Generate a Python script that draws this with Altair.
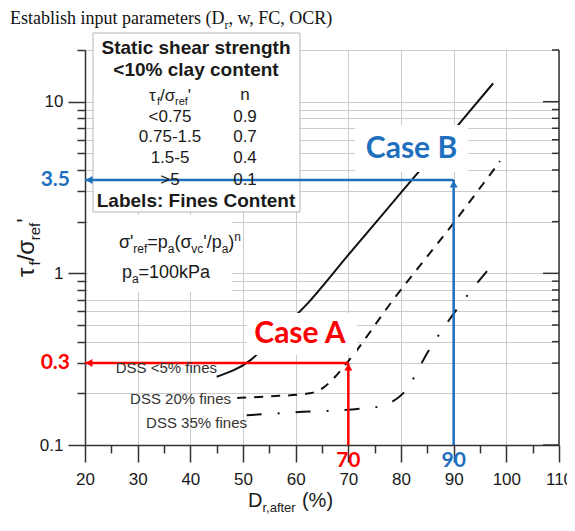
import math
import altair as alt
import pandas as pd

# ---------------- data ----------------
X_TICKS = [20, 25, 30, 35, 40, 45, 50, 55, 60, 65, 70, 75, 80, 85, 90, 95, 100, 105, 110]
Y_TICKS = [0.1, 0.2, 0.3, 0.4, 0.5, 0.6, 0.7, 0.8, 0.9, 1, 2, 3, 4, 5, 6, 7, 8, 9, 10, 20]
Y_MAJOR = [0.1, 1, 10]
Y_MINOR = [v for v in Y_TICKS if v not in Y_MAJOR]

SOLID_X = [45, 51.3, 56, 62.5, 70, 80, 90, 97.5]
SOLID_Y = [0.25, 0.31, 0.43, 0.68, 1.28, 2.95, 6.8, 12.8]
DASH_X = [48.9, 55, 62.7, 65.2, 67.5, 69.7, 78.5, 89.9, 98.8]
DASH_Y = [0.188, 0.192, 0.20, 0.215, 0.25, 0.30, 0.70, 1.95, 4.5]
DOT_X = [50.7, 60, 72.5, 76, 78.5, 80.4, 85.5, 90.8, 96.9]
DOT_Y = [0.149, 0.155, 0.163, 0.168, 0.18, 0.20, 0.365, 0.63, 1.08]

CASE_A = (70, 0.3)
CASE_B = (90, 3.5)

# ---------------- layout ----------------
W, H = 474, 395
OX, OY = 85, 50
XMIN, XMAX = 20, 110
YMIN, YMAX = 0.1, 20

SANS = "Liberation Sans, Arial, sans-serif"
SERIF = "Liberation Serif, Times New Roman, serif"
CAL = "Lato, Carlito, sans-serif"
RED = "#ff0000"
BLUE = "#1f6fbf"
INK = "#1a1a1a"


def sx(v):
    return (v - XMIN) / (XMAX - XMIN) * W + OX


def sy(v):
    return H * (math.log10(YMAX) - math.log10(v)) / (math.log10(YMAX) - math.log10(YMIN)) + OY


ARIAL = {' ': 278, '!': 278, "'": 191, '(': 333, ')': 333, '%': 889, ',': 278, '-': 333,
         '.': 278, '/': 278, ':': 278, '<': 584, '=': 584, '>': 584,
         'A': 667, 'B': 667, 'C': 722, 'D': 722, 'E': 667, 'F': 611, 'L': 556, 'P': 667, 'S': 667,
         'a': 556, 'b': 556, 'c': 500, 'd': 556, 'e': 556, 'f': 278, 'g': 556, 'h': 556, 'i': 222,
         'k': 500, 'l': 222, 'm': 833, 'n': 556, 'o': 556, 'p': 556, 'r': 333, 's': 500, 't': 278,
         'u': 556, 'v': 500, 'w': 722, 'y': 500, 'σ': 600, 'τ': 480}
TIMES = {' ': 250, ',': 250, '(': 333, ')': 333, 'C': 667, 'D': 722, 'E': 611, 'F': 556, 'O': 722,
         'R': 667, 'a': 444, 'b': 500, 'e': 444, 'h': 500, 'i': 278, 'l': 278, 'm': 778, 'n': 500,
         'p': 500, 'r': 333, 's': 389, 't': 278, 'u': 500, 'w': 722}

one = alt.Data(values=[{"k": 0}])


def text(s, x, y, size, color=INK, weight="normal", font=SANS, align="left",
         baseline="alphabetic", angle=0):
    mk = dict(text=s, fontSize=size, color=color, fontWeight=weight, font=font,
              align=align, baseline=baseline)
    if angle:
        mk["angle"] = angle
    return alt.Chart(one).mark_text(**mk).encode(x=alt.value(x - OX), y=alt.value(y - OY))


def rich(parts, x, y, size, sub, align="left", angle=0, color=INK, font=SANS, table=ARIAL):
    def w(t, s):
        return sum(table.get(c, 556) for c in t) / 1000.0 * s
    widths = [w(t, size if k == "n" else sub) for t, k in parts]
    total = sum(widths)
    pos = -total / 2 if align == "center" else 0
    out = []
    for (t, k), wd in zip(parts, widths):
        shift = {"n": 0, "sub": 0.25 * size, "sup": -0.4 * size}[k]
        fs = size if k == "n" else sub
        body = t.lstrip(" ")
        lead = w(t[:len(t) - len(body)], fs)
        p = pos + lead
        if angle:
            out.append(text(body, x + shift, y - p, fs, color=color, font=font, angle=angle))
        else:
            out.append(text(body, x + p, y + shift, fs, color=color, font=font))
        pos += wd
    return out


def box(x1, y1, x2, y2, stroke=None):
    mk = dict(fill="white", opacity=1)
    if stroke:
        mk.update(stroke=stroke, strokeWidth=1)
    return alt.Chart(one).mark_rect(**mk).encode(
        x=alt.value(x1 - OX), x2=alt.value(x2 - OX), y=alt.value(y1 - OY), y2=alt.value(y2 - OY))


# ---------------- scales / axes ----------------
x_axis = alt.Axis(
    values=X_TICKS, title=None,
    labelExpr="datum.value % 10 == 0 ? format(datum.value, 'd') : ''",
    tickSize={"condition": {"test": "datum.value % 10 == 0", "value": 17}, "value": 8},
    grid=True, gridColor="#cccccc", gridWidth=1,
    gridOpacity={"condition": {"test": "datum.value % 10 == 0", "value": 1}, "value": 0},
    domainColor="#333333", domainWidth=1.5, tickColor="#333333", tickWidth=1.5,
    labelFont=SANS, labelFontSize=17, labelColor=INK, labelPadding=9,
    labelOverlap=False, labelFlush=False, labelBound=False)
MAJ_TEST = "datum.value == 0.1 || datum.value == 1 || datum.value == 10"
y_axis = alt.Axis(
    values=Y_TICKS, title=None,
    labelExpr="datum.value == 0.1 ? '0.1' : datum.value == 1 ? '1' : datum.value == 10 ? '10' : ''",
    tickSize={"condition": {"test": MAJ_TEST, "value": 17}, "value": 8},
    grid=True, gridColor="#cccccc", gridWidth=1,
    domainColor="#333333", domainWidth=1.5, tickColor="#333333", tickWidth=1.5,
    labelFont=SANS, labelFontSize=17, labelColor=INK, labelPadding=5,
    labelOverlap=False, labelFlush=False, labelBound=False)

xs = alt.Scale(domain=[XMIN, XMAX], nice=False, zero=False)
ys = alt.Scale(type="log", domain=[YMIN, YMAX], nice=False)
xenc = alt.X("x:Q", scale=xs, axis=x_axis)
yenc = alt.Y("y:Q", scale=ys, axis=y_axis)


def line(xv, yv, color, width, dash=None, interp="monotone"):
    mk = dict(color=color, strokeWidth=width, interpolate=interp)
    if dash:
        mk["strokeDash"] = dash
    return alt.Chart(pd.DataFrame({"x": xv, "y": yv})).mark_line(**mk).encode(x=xenc, y=yenc)


def head(xv, yv, shape, color, dx=0, dy=0):
    return alt.Chart(pd.DataFrame({"x": [xv], "y": [yv]})).mark_point(
        shape=shape, filled=True, size=64, color=color, opacity=1, xOffset=dx, yOffset=dy
    ).encode(x=xenc, y=yenc)


layers = []
# legend & formula backgrounds
layers.append(box(93, 33, 300, 212, stroke="#b5b5b5"))
layers.append(box(88, 215, 232, 292))

# curves
layers.append(line(SOLID_X, SOLID_Y, "#111111", 2))
layers.append(line(DASH_X, DASH_Y, "#111111", 2, dash=[9, 8]))
layers.append(line(DOT_X, DOT_Y, "#111111", 2, dash=[15, 16, 2, 16]))

# case label backgrounds
layers.append(box(247, 313, 357, 355))
layers.append(box(355, 125, 468, 172))

# right-hand inner ticks and frame
layers.append(alt.Chart(pd.DataFrame({"y": Y_MAJOR})).mark_rule(color="#333333", strokeWidth=1.5)
              .encode(y=yenc, x=alt.value(W), x2=alt.value(W - 16)))
layers.append(alt.Chart(pd.DataFrame({"y": Y_MINOR})).mark_rule(color="#333333", strokeWidth=1.5)
              .encode(y=yenc, x=alt.value(W), x2=alt.value(W - 7)))
layers.append(alt.Chart(one).mark_rule(color="#333333", strokeWidth=1.5)
              .encode(x=alt.value(W), y=alt.value(0), y2=alt.value(H)))

# arrows
for (cx, cy), col in ((CASE_A, RED), (CASE_B, BLUE)):
    layers.append(line([XMIN, cx], [cy, cy], col, 2.5, interp="linear"))
    layers.append(line([cx, cx], [YMIN, cy], col, 2.5, interp="linear"))
    layers.append(head(XMIN, cy, "triangle-left", col, dx=4))
    layers.append(head(cx, cy, "triangle-up", col, dy=4))

# case annotations
layers.append(text("Case A", 300, 334, 30, color=RED, weight="bold", font=CAL, align="center", baseline="middle"))
layers.append(text("Case B", 411.5, 149, 30, color=BLUE, weight="bold", font=CAL, align="center", baseline="middle"))
layers.append(text("0.3", 70, sy(CASE_A[1]), 21, color=RED, weight="bold", font=CAL, align="right", baseline="middle"))
layers.append(text("3.5", 70, sy(CASE_B[1]), 21, color=BLUE, weight="bold", font=CAL, align="right", baseline="middle"))
layers.append(text("70", sx(CASE_A[0]), 461, 21, color=RED, weight="bold", font=CAL, align="center", baseline="middle"))
layers.append(text("90", sx(CASE_B[0]), 461, 21, color=BLUE, weight="bold", font=CAL, align="center", baseline="middle"))

# curve labels
layers.append(text("DSS <5% fines", 217, 368, 15, color="#333333", align="right", baseline="middle"))
layers.append(text("DSS 20% fines", 231, 399, 15, color="#333333", align="right", baseline="middle"))
layers.append(text("DSS 35% fines", 247, 423, 15, color="#333333", align="right", baseline="middle"))

# legend box content
layers.append(text("Static shear strength", 196, 48, 19, weight="bold", align="center", baseline="middle"))
layers.append(text("<10% clay content", 196, 70, 19, weight="bold", align="center", baseline="middle"))
layers += rich([("τ", "n"), ("f", "sub"), ("/", "n"), ("σ", "n"), ("ref", "sub"), ("'", "n")],
               170, 101, 17, 11, align="center")
layers.append(text("n", 245, 95, 17, align="center", baseline="middle"))
ROWS_L = ["<0.75", "0.75-1.5", "1.5-5", ">5"]
ROWS_R = ["0.9", "0.7", "0.4", "0.1"]
ROWS_Y = [117, 137, 158, 180]
for a, b, yy in zip(ROWS_L, ROWS_R, ROWS_Y):
    layers.append(text(a, 170, yy, 17, align="center", baseline="middle"))
    layers.append(text(b, 245, yy, 17, align="center", baseline="middle"))
layers.append(text("Labels: Fines Content", 196, 201, 19, weight="bold", align="center", baseline="middle"))

# formula
layers += rich([("σ'", "n"), ("ref", "sub"), ("=p", "n"), ("a", "sub"), ("(σ", "n"), ("vc", "sub"),
                ("'/p", "n"), ("a", "sub"), (")", "n"), ("n", "sup")], 180, 248, 18, 12, align="center")
layers += rich([("p", "n"), ("a", "sub"), ("=100kPa", "n")], 166, 278, 18, 12, align="center")

# axis titles
layers += rich([("D", "n"), ("r,after", "sub"), (" (%)", "n")], 248, 507, 20, 13)
layers += rich([("τ", "n"), ("f", "sub"), ("/", "n"), ("σ", "n"), ("ref", "sub"), ("'", "n")],
               34, 277, 24, 15, angle=270)

# top caption
layers += rich([("Establish input parameters (D", "n"), ("r", "sub"), (", w, FC, OCR)", "n")],
               10, 24, 18, 12, color="#111111", font=SERIF, table=TIMES)

chart = alt.layer(*layers).properties(
    width=W, height=H,
    padding={"left": OX - 8, "top": OY - 8, "right": 8, "bottom": 70},
    autosize=alt.AutoSizeParams(type="none"),
).configure_view(stroke=None)

chart.save("out.html", embed_options={"renderer": "svg", "actions": False})
